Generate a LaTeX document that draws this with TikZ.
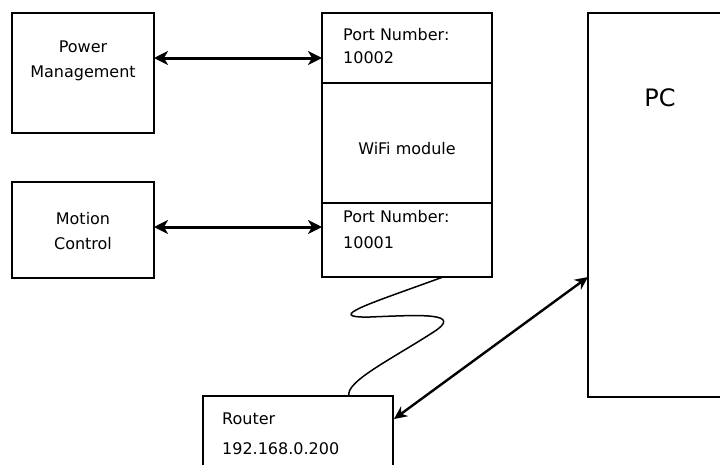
\documentclass[tikz,border=0pt]{standalone}
\usepackage{fontspec}
\setmainfont{DejaVu Sans}
\usetikzlibrary{arrows.meta}
\begin{document}
\begin{tikzpicture}[x=1pt,y=-1pt,
  box/.style={draw=black,line width=1.8pt},
  lbl/.style={font=\fontsize{16}{25}\selectfont,inner sep=0pt,align=center},
  lbll/.style={font=\fontsize{16}{25}\selectfont,inner sep=0pt,anchor=west},
  link/.style={line width=3pt,{Stealth[length=14pt,width=14pt,inset=4pt]}-{Stealth[length=14pt,width=14pt,inset=4pt]}},
  link2/.style={line width=2.4pt,{Stealth[length=13pt,width=12pt,inset=4pt]}-{Stealth[length=13pt,width=12pt,inset=4pt]}},
  wave/.style={line width=1.5pt}]
\useasboundingbox (0,0) rectangle (720,464);
\fill[white] (0,0) rectangle (720,464);
\clip (0,0) rectangle (720,464);
% boxes
\draw[box] (12,13) rectangle (154,133);
\draw[box] (12,182) rectangle (154,278);
\draw[box] (322,13) rectangle (492,277);
\draw[box] (322,83) -- (492,83);
\draw[box] (322,203) -- (492,203);
\draw[box] (588,13) rectangle (740,397);
\draw[box] (203,396) rectangle (393,480);
% named anchor coordinates
\coordinate (pmR) at (154,58);
\coordinate (p2L) at (322,58);
\coordinate (mcR) at (154,227);
\coordinate (p1L) at (322,227);
\coordinate (pcL) at (588,277);
\coordinate (rtR) at (394,419);
\coordinate (wifiB) at (443,277);
\coordinate (rtT) at (349,396);
% texts
\node[lbl] (pm) at (83,61) {Power\\Management};
\node[lbl] (mc) at (83,231) {Motion\\Control};
\node[lbll] (p2a) at (343,35) {Port Number:};
\node[lbll] (p2b) at (343,58) {10002};
\node[lbl] (wifi) at (407,149) {WiFi module};
\node[lbll] (p1a) at (343,217) {Port Number:};
\node[lbll] (p1b) at (343,243) {10001};
\node[lbl,font=\fontsize{24}{28}\selectfont] (pc) at (660,98) {PC};
\node[lbll] (rta) at (222,419) {Router};
\node[lbll] (rtb) at (222,449) {192.168.0.200};
% connectors
\draw[link] (pmR) -- (p2L);
\draw[link] (mcR) -- (p1L);
\draw[link2] (rtR) -- (pcL);
\draw[wave] (wifiB) .. controls (372,303) and (322,318) .. (370,317)
  .. controls (420,315) and (466,312) .. (432,333)
  .. controls (390,360) and (345,382) .. (rtT);
\end{tikzpicture}
\end{document}
